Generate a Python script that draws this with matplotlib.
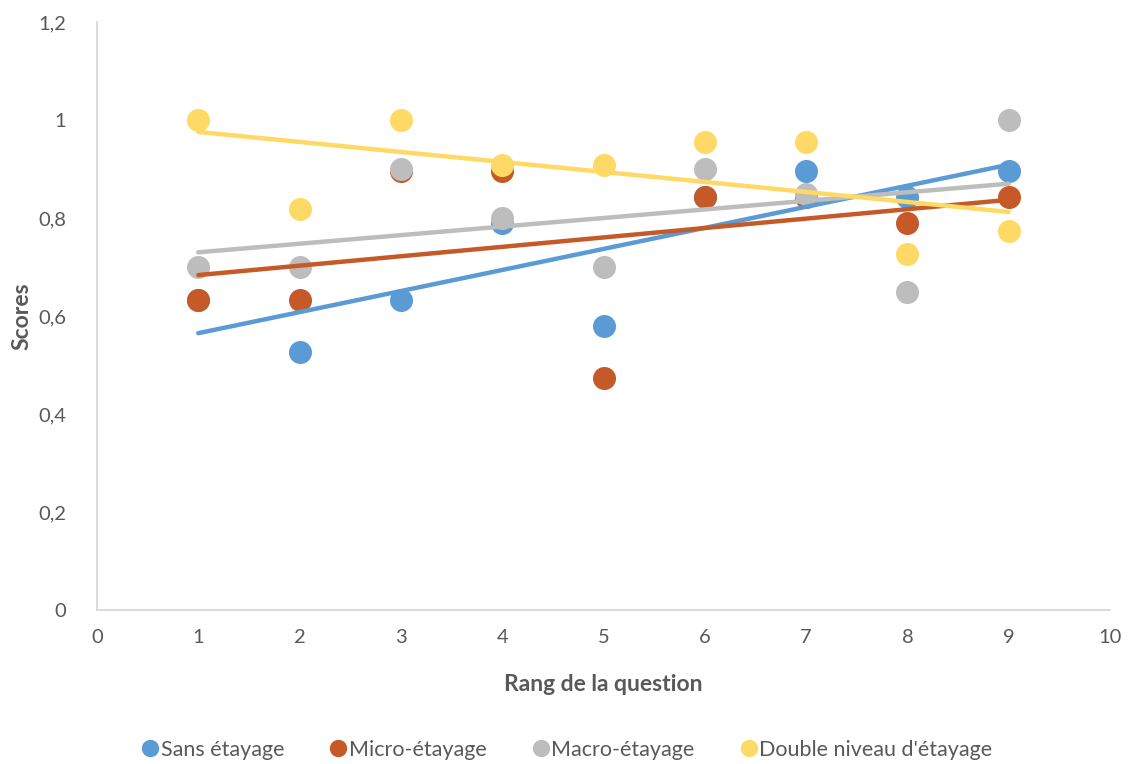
import matplotlib
matplotlib.use("Agg")
import matplotlib.pyplot as plt
import numpy as np
from matplotlib.ticker import FuncFormatter

plt.rcParams['font.family'] = ['Lato', 'DejaVu Sans']

questions = [1, 2, 3, 4, 5, 6, 7, 8, 9]
sans = [0.632, 0.526, 0.632, 0.789, 0.579, 0.842, 0.895, 0.842, 0.895]
micro = [0.632, 0.632, 0.895, 0.895, 0.474, 0.842, 0.842, 0.789, 0.842]
macro = [0.70, 0.70, 0.90, 0.80, 0.70, 0.90, 0.85, 0.65, 1.00]
double = [1.000, 0.818, 1.000, 0.909, 0.909, 0.955, 0.955, 0.727, 0.773]

series_names = ["Sans étayage", "Micro-étayage", "Macro-étayage", "Double niveau d'étayage"]
series_values = [sans, micro, macro, double]
colors = ["#5B9BD5", "#C55A28", "#BDBDBD", "#FFD966"]

fig = plt.figure(figsize=(11.28, 7.64), dpi=100)
ax = fig.add_axes([97/1128, 1 - 610/764, (1110-97)/1128, (610-22)/764])

x = np.array(questions, dtype=float)
for name, vals, c in zip(series_names, series_values, colors):
    ax.scatter(x, vals, s=275, color=c, label=name, zorder=3, linewidths=0)
for vals, c in zip(series_values, colors):
    m, b = np.polyfit(x, vals, 1)
    xs = np.array([x.min(), x.max()])
    ax.plot(xs, m * xs + b, color=c, lw=3.2, solid_capstyle='round', zorder=4)

ax.set_xlim(0, 10)
ax.set_ylim(0, 1.2)
ax.set_xticks(range(0, 11))
ax.set_yticks([0, 0.2, 0.4, 0.6, 0.8, 1.0, 1.2])
fmt = lambda v, p: ("%g" % round(v, 2)).replace('.', ',')
ax.xaxis.set_major_formatter(FuncFormatter(fmt))
ax.yaxis.set_major_formatter(FuncFormatter(fmt))
ax.tick_params(length=0, labelsize=14.5, colors="#595959", pad=14)
ax.tick_params(axis='y', pad=22)
for s in ['top', 'right']:
    ax.spines[s].set_visible(False)
for s in ['left', 'bottom']:
    ax.spines[s].set_color("#D9D9D9")
    ax.spines[s].set_linewidth(1.3)

ax.set_xlabel("Rang de la question", fontsize=16.5, fontweight='bold', color="#595959", labelpad=20)
ax.set_ylabel("Scores", fontsize=16.5, fontweight='bold', color="#595959", labelpad=4)

handles = [plt.Line2D([], [], marker='o', ls='', color=c, markersize=11.5) for c in colors]
fig.legend(handles, series_names, loc='center', bbox_to_anchor=(566/1128, 1 - 750/764),
           ncol=4, frameon=False, fontsize=15.5, labelcolor="#595959",
           handletextpad=0.0, columnspacing=2.0, handlelength=1.0)

fig.savefig("out.png", dpi=100)
